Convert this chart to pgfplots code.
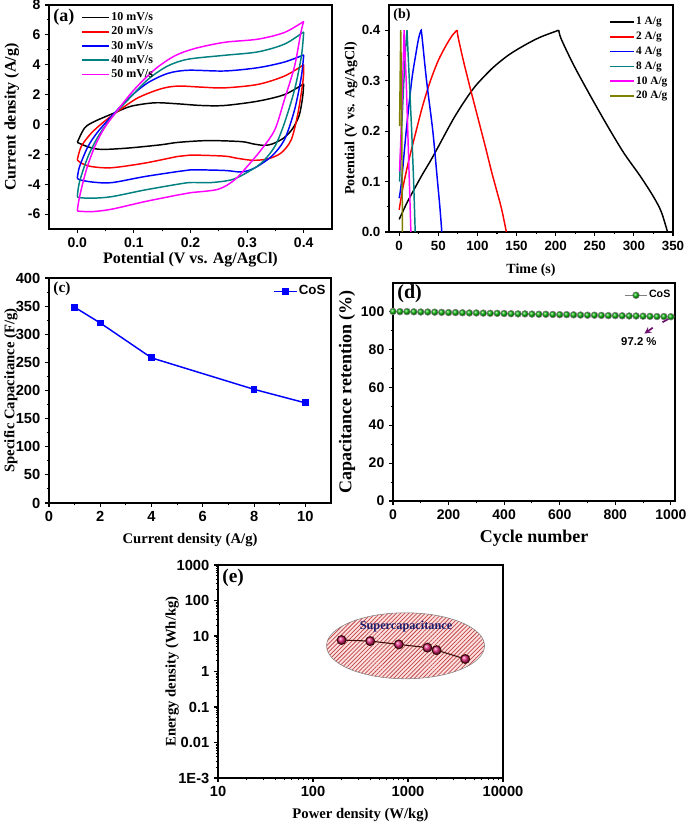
\documentclass[border=0pt]{standalone}
\usepackage{fontspec}
\setmainfont{Liberation Serif}
\setsansfont{Liberation Sans}
\usepackage{pgfplots}
\pgfplotsset{compat=1.18}
\usetikzlibrary{patterns,patterns.meta,arrows.meta}
\definecolor{cteal}{RGB}{0,128,128}
\definecolor{colive}{RGB}{128,128,0}
\definecolor{cmag}{RGB}{255,0,255}
\definecolor{cball}{RGB}{225,40,125}
\definecolor{cnavy}{RGB}{30,30,110}
\definecolor{cpurple}{RGB}{110,20,110}
\definecolor{cline}{RGB}{60,10,10}
\definecolor{chatch}{RGB}{190,70,70}
\pgfplotsset{orig/.style={scale only axis, axis line style={line width=1pt}, tick pos=left, tick align=outside,
  major tick length=3pt, minor tick length=1.8pt, every tick/.style={black, line width=0.8pt},
  /pgf/number format/assume math mode=true, /pgf/number format/1000 sep={},
  ticklabel style={font=\sffamily\bfseries\fontsize{10}{10}\selectfont},
  label style={font=\bfseries\fontsize{12}{12}\selectfont},
  legend cell align=left}}
\begin{document}
\begin{tikzpicture}
\useasboundingbox (0,0) rectangle (513.75pt,617.25pt);
% ---------------- (a)
\begin{axis}[orig, at={(36.75pt,445.5pt)}, anchor=south west, width=212.25pt, height=168pt,
 xmin=-0.05, xmax=0.45, ymin=-7, ymax=8,
 xtick={0,0.1,0.2,0.3,0.4}, ytick={-6,-4,-2,0,2,4,6,8}, minor x tick num=1, minor y tick num=1,
 ticklabel style={font=\sffamily\bfseries\fontsize{10.5}{10.5}\selectfont},
 xticklabel style={/pgf/number format/fixed, /pgf/number format/fixed zerofill, /pgf/number format/precision=1},
 xlabel={Potential (V vs. Ag/AgCl)}, ylabel={Current density (A/g)},
 xlabel style={at={(axis description cs:0.5,-0.135)}, anchor=center},
 ylabel style={at={(axis description cs:-0.131,0.5)}, anchor=center},
 legend style={draw=none, fill=none, at={(axis description cs:0.10,0.985)}, anchor=north west,
   font=\bfseries\fontsize{9}{9}\selectfont, nodes={inner sep=1pt}, row sep=1.2pt},
 legend image code/.code={\draw[#1, line width=1.3pt] (0pt,0pt) -- (20pt,0pt);}]
\addplot[black, line width=1.1pt, smooth] coordinates {(0,-1.2) (0.013,-0.23) (0.031,0.21) (0.066,0.78) (0.095,1.22) (0.137,1.45) (0.178,1.38) (0.219,1.27) (0.26,1.27) (0.319,1.56) (0.366,2.0) (0.40,2.72)};
\addlegendentry{10 mV/s}
\addplot[black, line width=1.1pt, smooth, forget plot] coordinates {(0.40,2.72) (0.398,1.8) (0.392,0.6) (0.38,-0.3) (0.365,-0.9) (0.345,-1.3) (0.33,-1.4) (0.31,-1.3) (0.29,-1.15) (0.231,-1.08) (0.178,-1.2) (0.148,-1.36) (0.09,-1.58) (0.042,-1.67) (0.019,-1.5) (0,-1.2)};
\addplot[red, line width=1.1pt, smooth] coordinates {(0,-2.37) (0.007,-1.47) (0.025,-0.57) (0.048,0.21) (0.072,0.89) (0.107,1.78) (0.148,2.39) (0.178,2.57) (0.219,2.5) (0.26,2.45) (0.319,2.68) (0.366,3.24) (0.40,4.0)};
\addlegendentry{20 mV/s}
\addplot[red, line width=1.1pt, smooth, forget plot] coordinates {(0.40,4.0) (0.399,3.0) (0.39,0.78) (0.378,-1.02) (0.36,-1.91) (0.337,-2.3) (0.31,-2.4) (0.28,-2.25) (0.26,-2.12) (0.2,-2.05) (0.178,-2.14) (0.119,-2.59) (0.06,-2.9) (0.025,-2.82) (0.007,-2.59) (0,-2.37)};
\addplot[blue, line width=1.1pt, smooth] coordinates {(0,-3.6) (0.004,-2.82) (0.019,-1.47) (0.037,-0.46) (0.066,0.78) (0.095,1.9) (0.125,2.8) (0.16,3.42) (0.196,3.63) (0.26,3.58) (0.319,3.8) (0.366,4.18) (0.40,4.66)};
\addlegendentry{30 mV/s}
\addplot[blue, line width=1.1pt, smooth, forget plot] coordinates {(0.40,4.66) (0.396,3.24) (0.384,1.0) (0.366,-1.02) (0.343,-2.14) (0.313,-2.92) (0.29,-3.18) (0.26,-3.08) (0.2,-3.04) (0.178,-3.15) (0.119,-3.49) (0.06,-3.9) (0.025,-3.85) (0.004,-3.7) (0,-3.6)};
\addplot[cteal, line width=1.1pt, smooth] coordinates {(0,-4.84) (0.004,-3.83) (0.019,-2.14) (0.037,-0.8) (0.06,0.44) (0.09,1.67) (0.125,3.02) (0.16,3.92) (0.196,4.37) (0.26,4.63) (0.319,4.86) (0.366,5.38) (0.40,6.2)};
\addlegendentry{40 mV/s}
\addplot[cteal, line width=1.1pt, smooth, forget plot] coordinates {(0.40,6.2) (0.396,4.59) (0.384,2.35) (0.366,0.1) (0.349,-1.47) (0.325,-2.59) (0.296,-3.3) (0.272,-3.71) (0.237,-3.89) (0.2,-3.89) (0.178,-4.0) (0.119,-4.39) (0.06,-4.84) (0.025,-4.94) (0.004,-4.9) (0,-4.84)};
\addplot[cmag, line width=1.1pt, smooth] coordinates {(0,-5.78) (0.004,-4.84) (0.016,-3.04) (0.031,-1.47) (0.048,-0.23) (0.072,1.0) (0.101,2.35) (0.137,3.69) (0.172,4.59) (0.207,5.08) (0.26,5.5) (0.319,5.71) (0.366,6.16) (0.40,6.9)};
\addlegendentry{50 mV/s}
\addplot[cmag, line width=1.1pt, smooth, forget plot] coordinates {(0.40,6.9) (0.395,6.16) (0.384,3.92) (0.366,1.67) (0.349,-0.35) (0.325,-1.69) (0.30,-2.82) (0.278,-3.71) (0.249,-4.34) (0.2,-4.57) (0.178,-4.72) (0.119,-5.17) (0.06,-5.68) (0.025,-5.84) (0,-5.8)};
\node[anchor=north west, font=\bfseries\fontsize{13.5}{14}\selectfont, inner sep=1pt] at (axis description cs:0.01,0.99) {(a)};
\end{axis}
% ---------------- (b)
\begin{axis}[orig, at={(291.75pt,443.25pt)}, anchor=south west, width=213pt, height=170.25pt,
 xmin=-13, xmax=350, ymin=0, ymax=0.45,
 xtick={0,50,...,350}, ytick={0,0.1,0.2,0.3,0.4}, minor x tick num=1, minor y tick num=1,
 yticklabel style={/pgf/number format/fixed, /pgf/number format/fixed zerofill, /pgf/number format/precision=1},
 label style={font=\bfseries\fontsize{10.5}{10.5}\selectfont},
 xlabel={Time (s)}, ylabel={Potential (V vs. Ag/AgCl)},
 xlabel style={at={(axis description cs:0.5,-0.167)}, anchor=center},
 ylabel style={at={(axis description cs:-0.134,0.5)}, anchor=center},
 legend style={draw=none, fill=none, at={(axis description cs:0.76,0.965)}, anchor=north west,
   font=\bfseries\fontsize{8.5}{8.5}\selectfont, nodes={inner sep=1pt}, row sep=2pt},
 legend image code/.code={\draw[#1, line width=1.3pt] (0pt,0pt) -- (18pt,0pt);}]
\addplot[black, line width=1.1pt, smooth] coordinates {(0,0.025) (10,0.058) (20,0.087) (30,0.115) (40,0.141) (50,0.169) (60,0.198) (70,0.226) (80,0.251) (90,0.274) (100,0.294) (120,0.326) (140,0.351) (160,0.370) (180,0.386) (204,0.4)};
\addlegendentry{1 A/g}
\addplot[black, line width=1.1pt, smooth, forget plot] coordinates {(204,0.4) (207,0.383) (223,0.331) (244,0.271) (266,0.211) (287,0.157) (308,0.111) (325,0.07) (335,0.04) (343,0.0)};
\addplot[red, line width=1.1pt, smooth] coordinates {(0,0.044) (5,0.09) (12,0.14) (20,0.19) (30,0.25) (40,0.30) (50,0.34) (60,0.37) (68,0.39) (74,0.4)};
\addlegendentry{2 A/g}
\addplot[red, line width=1.1pt, smooth, forget plot] coordinates {(74,0.4) (75.5,0.385) (82,0.34) (90,0.29) (100,0.23) (110,0.17) (118,0.12) (125,0.08) (131,0.045) (137,0.0)};
\addplot[blue, line width=1.1pt, smooth] coordinates {(0,0.067) (3,0.1) (9,0.2) (16,0.3) (21,0.35) (25,0.385) (28,0.4)};
\addlegendentry{4 A/g}
\addplot[blue, line width=1.1pt, smooth, forget plot] coordinates {(28,0.4) (29,0.39) (35,0.3) (43,0.2) (49,0.1) (52,0.05) (54.5,0)};
\addplot[cteal, line width=1.1pt] coordinates {(0.5,0.1) (3,0.2) (6,0.3) (8.5,0.37) (10,0.4) (13,0.3) (16,0.2) (18.5,0.1) (20.5,0)};
\addlegendentry{8 A/g}
\addplot[cmag, line width=1.1pt] coordinates {(0.5,0.12) (2.5,0.2) (4.5,0.3) (6.3,0.4) (9,0.3) (11,0.2) (13,0.1) (15,0)};
\addlegendentry{10 A/g}
\addplot[colive, line width=1.1pt] coordinates {(0.5,0.21) (1.2,0.3) (2,0.4) (2.8,0.3) (3.3,0.2) (3.8,0.1) (4.2,0)};
\addlegendentry{20 A/g}
\node[anchor=north west, font=\bfseries\fontsize{10.5}{11}\selectfont, inner sep=1pt] at (axis description cs:0.01,0.99) {(b)};
\end{axis}
% ---------------- (c)
\begin{axis}[orig, at={(36.75pt,240pt)}, anchor=south west, width=211.5pt, height=168.75pt,
 xmin=0, xmax=11, ymin=0, ymax=400,
 xtick={0,2,...,10}, ytick={0,50,...,400}, minor x tick num=1, minor y tick num=1,
 ticklabel style={font=\sffamily\bfseries\fontsize{11}{11}\selectfont},
 label style={font=\bfseries\fontsize{11}{11}\selectfont},
 xlabel={Current density (A/g)}, ylabel={Specific Capacitance (F/g)},
 xlabel style={at={(axis description cs:0.5,-0.164)}, anchor=center},
 ylabel style={at={(axis description cs:-0.135,0.5)}, anchor=center},
 legend style={draw=none, fill=none, at={(axis description cs:0.78,0.985)}, anchor=north west,
   font=\sffamily\bfseries\fontsize{10}{10}\selectfont, nodes={inner sep=1pt}}]
\addplot[blue, line width=1.1pt, mark=square*, mark size=2pt] coordinates {(1,348) (2,320) (4,258) (8,202) (10,178)};
\addlegendentry{CoS}
\node[anchor=north west, font=\bfseries\fontsize{11.5}{12}\selectfont, inner sep=1pt] at (axis description cs:0.01,0.99) {(c)};
\end{axis}
% ---------------- (d)
\begin{axis}[orig, at={(294.75pt,241.5pt)}, anchor=south west, width=211.5pt, height=163.5pt,
 xmin=0, xmax=1015, ymin=0, ymax=115,
 xtick={0,200,...,1000}, ytick={0,20,...,100}, minor x tick num=1, minor y tick num=1,
 ticklabel style={font=\sffamily\bfseries\fontsize{10.5}{10.5}\selectfont},
 label style={font=\bfseries\fontsize{13.5}{13.5}\selectfont},
 xlabel={Cycle number}, ylabel={Capacitance retention (\%)},
 xlabel style={at={(axis description cs:0.5,-0.17)}, anchor=center},
 ylabel style={at={(axis description cs:-0.163,0.5)}, anchor=center},
 legend style={draw=none, fill=none, at={(axis description cs:0.805,0.985)}, anchor=north west,
   font=\sffamily\bfseries\fontsize{8}{8}\selectfont, nodes={inner sep=1pt}}]
\addplot[gray, line width=0.5pt, mark=ball, mark size=2.5pt, mark options={ball color=green!70!black}] table {
x y
0 100.0
25 99.9
50 99.9
75 99.8
100 99.7
125 99.7
150 99.6
175 99.5
200 99.4
225 99.4
250 99.3
275 99.2
300 99.2
325 99.1
350 99.0
375 99.0
400 98.9
425 98.8
450 98.7
475 98.7
500 98.6
525 98.5
550 98.5
575 98.4
600 98.3
625 98.3
650 98.2
675 98.1
700 98.0
725 98.0
750 97.9
775 97.8
800 97.8
825 97.7
850 97.6
875 97.6
900 97.5
925 97.4
950 97.3
975 97.3
1000 97.2
};
\addlegendentry{CoS}
\draw[cpurple, line width=1.3pt] (axis cs:1002,96.9) -- (axis cs:970,94.3);
\draw[cpurple, line width=1.3pt, -{Stealth[length=5pt,width=5pt]}] (axis cs:935,91.4) -- (axis cs:905,88.3);
\node[font=\sffamily\bfseries\fontsize{8.5}{9}\selectfont] at (axis cs:885,84) {97.2 \%};
\node[anchor=north west, font=\bfseries\fontsize{15}{15}\selectfont, inner sep=1pt] at (axis description cs:0.01,1.0) {(d)};
\end{axis}
% ---------------- (e)
\begin{axis}[orig, at={(163.5pt,33.75pt)}, anchor=south west, width=213.75pt, height=159.75pt,
 xmode=log, ymode=log, xmin=10, xmax=10000, ymin=1e-3, ymax=1000,
 xtick={10,100,1000,10000}, xticklabels={10,100,1000,10000},
 ytick={1e-3,0.01,0.1,1,10,100,1000}, yticklabels={1E-3,0.01,0.1,1,10,100,1000},
 ticklabel style={font=\sffamily\bfseries\fontsize{11}{11}\selectfont},
 label style={font=\bfseries\fontsize{11}{11}\selectfont},
 xlabel={Power density (W/kg)}, ylabel={Energy density (Wh/kg)},
 xlabel style={at={(axis description cs:0.5,-0.174)}, anchor=center},
 ylabel style={at={(axis description cs:-0.161,0.5)}, anchor=center}]
\draw[gray, line width=0.4pt, preaction={fill=red!12}, pattern={Lines[angle=45,distance=2.2pt,line width=0.55pt]}, pattern color=chatch] (axis cs:942,5.3) ellipse [x radius=59.25pt, y radius=24.75pt];
\node[font=\bfseries\fontsize{9.2}{9.5}\selectfont, text=cnavy] at (axis cs:953,18.3) {Supercapacitance};
\addplot[cline, line width=0.8pt, mark=ball, mark size=3.3pt, mark options={ball color=cball}] coordinates {(200,7.7) (400,7.2) (800,5.8) (1600,4.7) (2000,4.0) (4000,2.25)};
\node[anchor=north west, font=\bfseries\fontsize{14.5}{15}\selectfont, inner sep=1pt] at (axis description cs:0.01,0.99) {(e)};
\end{axis}
\end{tikzpicture}
\end{document}
